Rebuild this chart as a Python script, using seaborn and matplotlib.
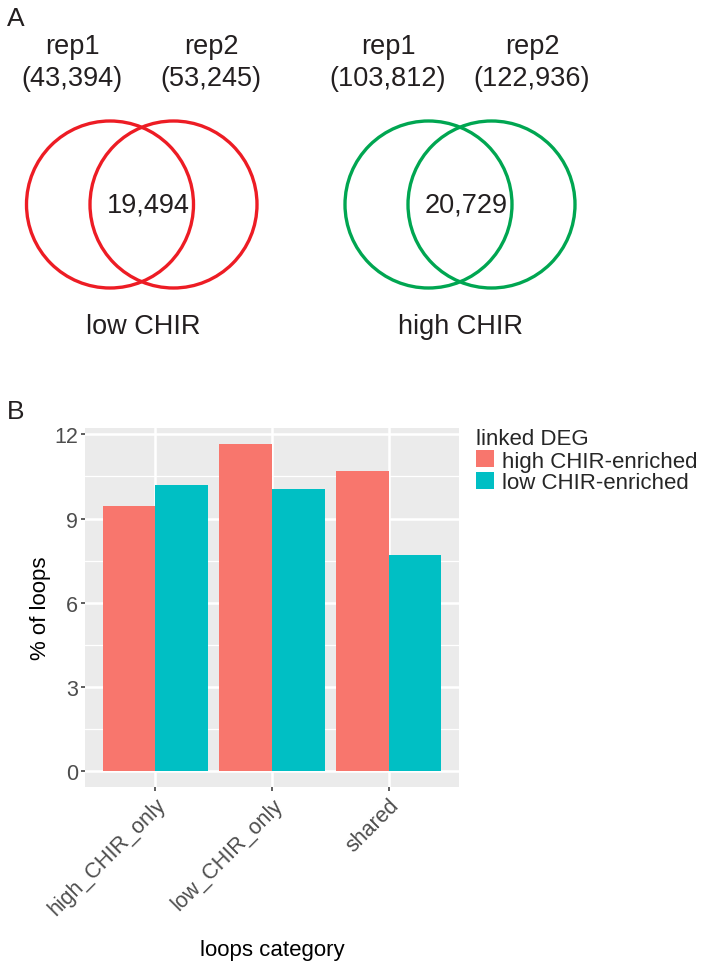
import matplotlib
matplotlib.use("Agg")
import matplotlib.pyplot as plt
import matplotlib.patches as mpatches
from matplotlib.ticker import MultipleLocator
import seaborn as sns
import pandas as pd

# ---------------- data ----------------
categories = ["high_CHIR_only", "low_CHIR_only", "shared"]
deg_groups = ["high CHIR-enriched", "low CHIR-enriched"]
high_enriched = [9.45, 11.65, 10.7]
low_enriched = [10.2, 10.07, 7.70]
y_ticks = [0, 3, 6, 9, 12]

venn_titles = ["low CHIR", "high CHIR"]
rep1_counts = ["43,394", "103,812"]
rep2_counts = ["53,245", "122,936"]
overlap_counts = ["19,494", "20,729"]
venn_colors = ["#ED1C24", "#00A651"]
bar_colors = ["#F8766D", "#00BFC4"]

df = pd.DataFrame({
    "category": categories * 2,
    "group": [deg_groups[0]] * 3 + [deg_groups[1]] * 3,
    "pct": high_enriched + low_enriched,
})

sns.set_theme(style="white")
plt.rcParams["font.family"] = ["Liberation Sans", "DejaVu Sans"]

W, H = 703, 970
fig = plt.figure(figsize=(W / 100, H / 100), dpi=100)

# ---------------- panel A : Venn diagrams ----------------
axv = fig.add_axes([0, 0, 1, 1])
axv.set_xlim(0, W)
axv.set_ylim(H, 0)
axv.axis("off")

venn_cx = [(110, 173.5), (428.5, 491.5)]
venn_cy = 205.5
for i in range(2):
    for cx in venn_cx[i]:
        axv.add_patch(mpatches.Ellipse((cx, venn_cy), 167, 167, fill=False,
                                       edgecolor=venn_colors[i], linewidth=2.4))
label_x = [(72, 211), (388, 532)]
centre_x = [148, 466]
title_x = [143, 461]
vfs = 19.5
tc = "#231F20"
for i in range(2):
    axv.text(label_x[i][0], 47, "rep1", ha="center", va="center", fontsize=vfs, color=tc)
    axv.text(label_x[i][1], 47, "rep2", ha="center", va="center", fontsize=vfs, color=tc)
    axv.text(label_x[i][0], 79, f"({rep1_counts[i]})", ha="center", va="center", fontsize=vfs, color=tc)
    axv.text(label_x[i][1], 79, f"({rep2_counts[i]})", ha="center", va="center", fontsize=vfs, color=tc)
    axv.text(centre_x[i], 205, overlap_counts[i], ha="center", va="center", fontsize=vfs, color=tc)
    axv.text(title_x[i], 327, venn_titles[i], ha="center", va="center", fontsize=vfs, color=tc)
axv.text(7, 19, "A", ha="left", va="center", fontsize=19, color=tc)
axv.text(7, 412, "B", ha="left", va="center", fontsize=19, color=tc)

# ---------------- panel B : bar chart ----------------
left, right, top, bottom = 85, 459, 429, 788
ax = fig.add_axes([left / W, 1 - bottom / H, (right - left) / W, (bottom - top) / H])
ax.set_facecolor("#EBEBEB")
sns.barplot(data=df, x="category", y="pct", hue="group", order=categories,
            hue_order=deg_groups, palette=bar_colors, width=0.9, gap=0,
            saturation=1, ax=ax, legend=False, edgecolor="none", linewidth=0)
ax.set_xlim(-0.6, 2.6)
ax.set_ylim(-0.58, 12.23)
ax.set_yticks(y_ticks)
ax.set_yticklabels([str(t) for t in y_ticks])
ax.yaxis.set_minor_locator(MultipleLocator(1.5))
ax.grid(which="major", axis="both", color="white", linewidth=1.8)
ax.grid(which="minor", axis="y", color="white", linewidth=0.9)
ax.set_axisbelow(True)
for s in ax.spines.values():
    s.set_visible(False)
ax.tick_params(axis="both", which="major", length=3, width=1.1, color="#333333",
               labelsize=15.5, labelcolor="#4D4D4D", pad=2, bottom=True, left=True)
ax.tick_params(axis="y", which="minor", length=0)
plt.setp(ax.get_xticklabels(), rotation=45, ha="right", va="top", rotation_mode="anchor")
ax.set_xlabel("loops category", fontsize=16, color="black", labelpad=14)
ax.set_ylabel("% of loops", fontsize=16, color="black", labelpad=2)

handles = [mpatches.Patch(facecolor=c, edgecolor="none") for c in bar_colors]
leg = ax.legend(handles, deg_groups, title="linked DEG", loc="upper left",
                bbox_to_anchor=(476 / W, 1 - 429 / H), bbox_transform=fig.transFigure,
                frameon=False, fontsize=16, title_fontsize=16,
                handlelength=0.8, handleheight=0.8, handletextpad=0.35,
                labelspacing=0.0, borderpad=0, borderaxespad=0, alignment="left")
leg._legend_box.sep = 1

fig.savefig("out.png", dpi=100)
